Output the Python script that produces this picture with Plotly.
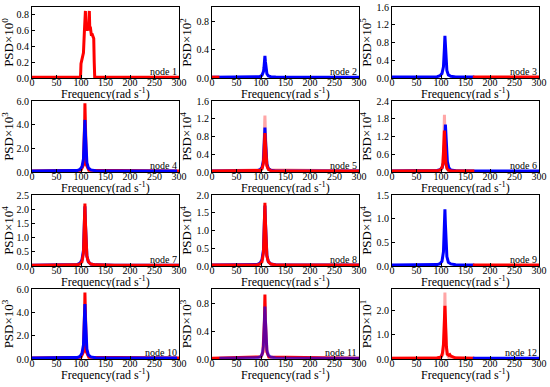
import plotly.graph_objects as go

# ---------------- data ----------------
F = [0, 60, 92, 98, 102, 105, 106, 107, 108, 109, 110, 112, 115, 120, 130, 168, 300]
F_B4 = [0, 60, 92, 98, 102, 105, 106, 107, 108, 109, 110, 112, 115, 120, 130, 168, 296]
F_TO168 = [0, 60, 92, 98, 102, 105, 106, 107, 108, 109, 110, 112, 115, 120, 130, 168]
F_FROM15 = [15, 60, 92, 98, 102, 105, 106, 107, 108, 109, 110, 112, 115, 120, 130, 168, 300]
SPIKE_X = [0, 100, 105, 107, 107.6, 108, 108.4, 109, 111, 116, 300]
PINK_X = [0, 100, 104, 106, 107, 107.6, 108, 108.4, 109, 110, 112, 116, 300]

node1_x = [0, 99, 100, 102, 104, 105, 107, 108, 109, 110, 111, 112, 114, 115, 116, 117, 118, 119, 120, 121, 123, 125, 126, 127, 128, 300]
node1_red = [0.008, 0.008, 0.18, 0.25, 0.28, 0.32, 0.6, 0.85, 0.85, 0.62, 0.68, 0.6, 0.65, 0.6, 0.85, 0.85, 0.6, 0.65, 0.6, 0.55, 0.55, 0.52, 0.5, 0.2, 0.008, 0.008]

node2_blue = [0.012, 0.012, 0.015, 0.02, 0.04, 0.09, 0.14, 0.23, 0.31, 0.23, 0.14, 0.06, 0.03, 0.018, 0.014, 0.012, 0.012]
node2_red_x = [0, 15]
node2_red = [0.012, 0.012]

node3_blue = [0.02, 0.02, 0.03, 0.05, 0.1, 0.25, 0.4, 0.68, 0.95, 0.7, 0.42, 0.17, 0.07, 0.04, 0.025, 0.02]
node3_red_x = [165, 300]
node3_red = [0.02, 0.02]

node4_red = [0.08, 0.15, 0.6, 2.5, 4.5, 5.8, 4.5, 2.5, 0.6, 0.15, 0.08]
node4_blue = [0.08, 0.08, 0.12, 0.22, 0.45, 1.1, 1.85, 3.2, 4.4, 3.25, 2.0, 0.8, 0.35, 0.18, 0.1, 0.08, 0.08]

node5_pink = [0.02, 0.05, 0.15, 0.5, 0.9, 1.15, 1.27, 1.15, 0.9, 0.5, 0.15, 0.05, 0.02]
node5_blue = [0.02, 0.02, 0.03, 0.05, 0.1, 0.26, 0.44, 0.75, 1.0, 0.74, 0.45, 0.18, 0.08, 0.04, 0.025, 0.02, 0.02]
node5_red = [0.02, 0.02, 0.025, 0.035, 0.07, 0.2, 0.36, 0.62, 0.88, 0.62, 0.36, 0.14, 0.06, 0.03, 0.022, 0.02, 0.02]

node6_pink_x = [0, 100, 103, 105, 106, 106.6, 107, 107.4, 108, 109, 111, 115, 168]
node6_pink = [0.03, 0.06, 0.2, 0.6, 1.2, 1.7, 1.93, 1.7, 1.2, 0.6, 0.2, 0.06, 0.03]
node6_blue_x = [0, 60, 92, 98, 102, 105, 107, 108, 109, 110, 111, 113, 116, 120, 130, 168, 300]
node6_blue = [0.03, 0.03, 0.05, 0.08, 0.14, 0.3, 0.7, 1.2, 1.6, 1.25, 0.8, 0.35, 0.14, 0.07, 0.04, 0.03, 0.03]
node6_red_x = [0, 60, 92, 98, 102, 104, 105, 106, 107, 108, 109, 110, 112, 115, 120, 130, 168]
node6_red = [0.03, 0.03, 0.04, 0.07, 0.14, 0.3, 0.55, 0.95, 1.4, 1.0, 0.55, 0.3, 0.12, 0.06, 0.04, 0.03, 0.03]

node7_blue = [0.03, 0.03, 0.05, 0.1, 0.22, 0.55, 0.9, 1.5, 2.1, 1.5, 0.9, 0.35, 0.15, 0.07, 0.04, 0.03, 0.03]
node7_red = [0.03, 0.03, 0.04, 0.07, 0.15, 0.45, 0.85, 1.55, 2.2, 1.55, 0.9, 0.35, 0.15, 0.07, 0.04, 0.03, 0.03]

node8_blue = [0.025, 0.025, 0.04, 0.08, 0.18, 0.45, 0.75, 1.25, 1.7, 1.25, 0.75, 0.3, 0.12, 0.06, 0.035, 0.025, 0.025]
node8_red = [0.025, 0.025, 0.03, 0.055, 0.12, 0.37, 0.7, 1.25, 1.78, 1.25, 0.72, 0.28, 0.12, 0.055, 0.03, 0.025, 0.025]

node9_blue = [0.02, 0.02, 0.03, 0.05, 0.1, 0.3, 0.5, 0.85, 1.2, 0.88, 0.52, 0.2, 0.08, 0.045, 0.025, 0.02]
node9_red_x = [165, 300]
node9_red = [0.02, 0.02]

node10_red = [0.08, 0.15, 0.6, 2.5, 4.5, 5.7, 4.5, 2.5, 0.6, 0.15, 0.08]
node10_blue = [0.08, 0.08, 0.12, 0.22, 0.5, 1.2, 2.0, 3.4, 4.7, 3.45, 2.1, 0.85, 0.35, 0.18, 0.1, 0.08, 0.08]

node11_red = [0.012, 0.03, 0.1, 0.3, 0.55, 0.8, 0.92, 0.8, 0.55, 0.3, 0.1, 0.03, 0.012]
node11_blue = [0.012, 0.012, 0.018, 0.03, 0.06, 0.18, 0.32, 0.55, 0.75, 0.56, 0.33, 0.13, 0.055, 0.028, 0.016, 0.012, 0.012]

node12_pink_x = [0, 100, 104, 106, 107, 107.6, 108, 108.4, 109, 110, 112, 116, 168]
node12_pink = [0.03, 0.06, 0.2, 0.7, 1.4, 2.3, 2.75, 2.3, 1.4, 0.7, 0.2, 0.06, 0.03]
node12_red_x = [0, 60, 92, 98, 101, 103, 105, 106, 107, 108, 109, 110, 111, 113, 116, 118, 120, 123, 126, 130, 168]
node12_red = [0.03, 0.03, 0.04, 0.07, 0.12, 0.25, 0.6, 1.1, 1.8, 2.2, 1.7, 1.0, 0.5, 0.2, 0.15, 0.18, 0.12, 0.1, 0.06, 0.04, 0.03]
node12_blue_x = [165, 300]
node12_blue = [0.03, 0.03]

y_max = [0.9, 1.0, 1.6, 6.0, 1.6, 2.4, 2.5, 2.0, 1.5, 6.0, 1.0, 2.9]
y_dtick = [0.2, 0.4, 0.4, 2.0, 0.4, 0.6, 0.5, 0.5, 0.5, 2.0, 0.4, 1.0]
y_exp = [0, 2, 5, 3, 4, 4, 4, 4, 4, 3, 3, 1]
node_labels = ["node %d" % i for i in range(1, 13)]
x_ticks = [0, 50, 100, 150, 200, 250, 300]
x_title = "Frequency(rad s<sup>-1</sup>)"

RED = "#ff0000"
BLUE = "#0000ff"
PINK = "rgba(255,0,0,0.35)"
PURPLE_BLUE = "rgba(0,0,255,0.6)"

# traces per panel: (x, y, color)
panels = [
    [(node1_x, node1_red, RED)],
    [(F, node2_blue, BLUE), (node2_red_x, node2_red, RED)],
    [(F_TO168, node3_blue, BLUE), (node3_red_x, node3_red, RED)],
    [(SPIKE_X, node4_red, RED), (F_B4, node4_blue, BLUE)],
    [(PINK_X, node5_pink, PINK), (F, node5_blue, BLUE), (F, node5_red, RED)],
    [(node6_pink_x, node6_pink, PINK), (node6_blue_x, node6_blue, BLUE), (node6_red_x, node6_red, RED)],
    [(F, node7_blue, BLUE), (F, node7_red, RED)],
    [(F, node8_blue, BLUE), (F, node8_red, RED)],
    [(F_TO168, node9_blue, BLUE), (node9_red_x, node9_red, RED)],
    [(SPIKE_X, node10_red, RED), (F_B4, node10_blue, BLUE)],
    [(PINK_X, node11_red, RED), (F_FROM15, node11_blue, PURPLE_BLUE)],
    [(node12_pink_x, node12_pink, PINK), (node12_red_x, node12_red, RED), (node12_blue_x, node12_blue, BLUE)],
]

# ---------------- layout ----------------
W, H = 550, 387
col_px = [(32, 179), (212, 359), (392, 539)]
row_px = [(7, 78), (101, 172), (195, 266), (289, 359)]
FONT = "Liberation Serif"

fig = go.Figure()
layout = {}
annotations = []
for i, traces in enumerate(panels):
    r, c = divmod(i, 3)
    n = i + 1
    xa = "x" if n == 1 else "x%d" % n
    ya = "y" if n == 1 else "y%d" % n
    for (xs, ys, col) in traces:
        fig.add_trace(go.Scatter(x=xs, y=ys, mode="lines", xaxis=xa, yaxis=ya,
                                 line=dict(color=col, width=3), showlegend=False,
                                 hoverinfo="skip"))
    x0, x1 = col_px[c]
    t0, t1 = row_px[r]
    common = dict(showline=True, linecolor="black", linewidth=1, mirror=True,
                  ticks="inside", ticklen=3, tickcolor="black", showgrid=False,
                  zeroline=False, automargin=False,
                  tickfont=dict(family=FONT, size=10, color="black"))
    layout["xaxis" if n == 1 else "xaxis%d" % n] = dict(
        domain=[x0 / W, x1 / W], anchor=ya, range=[0, 300], tickvals=x_ticks,
        ticklabelstandoff=-5, **common)
    layout["yaxis" if n == 1 else "yaxis%d" % n] = dict(
        domain=[1 - t1 / H, 1 - t0 / H], anchor=xa, range=[0, y_max[i]],
        tick0=0, dtick=y_dtick[i], tickformat=".1f", ticklabelstandoff=0,
        title=dict(text="PSD×10<sup>%d</sup>" % y_exp[i], standoff=1,
                   font=dict(family=FONT, size=13, color="black")),
        **common)
    annotations.append(dict(text=x_title, xref="paper", yref="paper",
                            x=(x0 + x1) / 2 / W, y=1 - (t1 + 15) / H,
                            xanchor="center", yanchor="middle", showarrow=False,
                            font=dict(family=FONT, size=12, color="black")))
    annotations.append(dict(text=node_labels[i], xref="%s domain" % xa, yref="%s domain" % ya,
                            x=1, y=0, xanchor="right", yanchor="bottom", yshift=-1,
                            showarrow=False, font=dict(family=FONT, size=10, color="black")))

fig.update_layout(width=W, height=H, margin=dict(l=0, r=0, t=0, b=0),
                  paper_bgcolor="white", plot_bgcolor="white",
                  annotations=annotations, **layout)
fig.write_html("out.html", config={"displayModeBar": False},
               post_script="document.body.style.margin='0';")
